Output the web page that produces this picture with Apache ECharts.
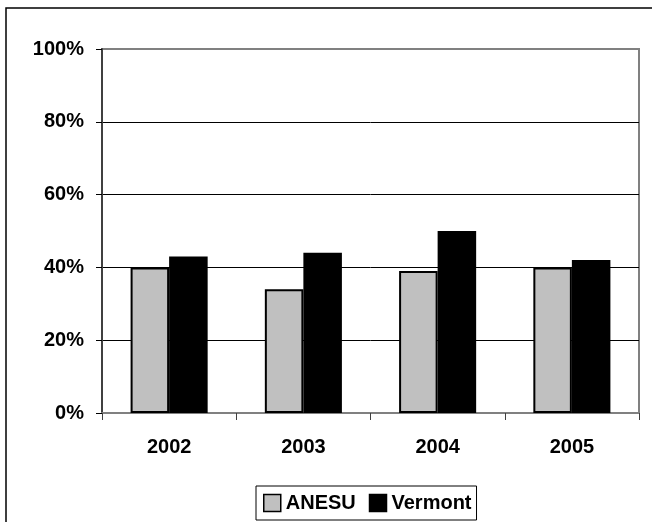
<!DOCTYPE html>
<html><head><meta charset="utf-8">
<script src="https://cdn.jsdelivr.net/npm/echarts@6/dist/echarts.min.js"></script>
<style>html,body{margin:0;padding:0;background:#fff}#c{width:652px;height:522px}</style>
</head><body><div id="c"></div>
<script>
const categories = ['2002', '2003', '2004', '2005'];
const anesu = [40, 34, 39, 40];
const vermont = [43, 44, 50, 42];
const yTicks = [0, 20, 40, 60, 80, 100];

const chart = echarts.init(document.getElementById('c'), null, {renderer: 'canvas'});
const font = 'Liberation Sans, Arial, sans-serif';
chart.setOption({
  animation: false,
  backgroundColor: '#fff',
  graphic: [{
    type: 'rect', shape: {x: 6, y: 8, width: 652, height: 520},
    style: {fill: 'none', stroke: '#000', lineWidth: 1.5}, z: -1
  }],
  grid: {left: 102, right: 13, top: 49, bottom: 109, show: true,
    borderColor: '#808080', borderWidth: 2, backgroundColor: '#fff'},
  legend: {
    left: 256, top: 486, itemWidth: 17, itemHeight: 17, itemGap: 13,
    padding: [7, 5, 7, 7], borderColor: '#000', borderWidth: 1,
    textStyle: {fontFamily: font, fontWeight: 'bold', fontSize: 20, color: '#000'},
    data: [
      {name: 'ANESU', icon: 'rect', itemStyle: {color: '#c0c0c0', borderColor: '#000', borderWidth: 1.5}},
      {name: 'Vermont', icon: 'rect', itemStyle: {color: '#000', borderColor: '#000', borderWidth: 1.5}}
    ]
  },
  xAxis: {
    type: 'category', data: categories,
    axisLine: {lineStyle: {color: '#808080', width: 2}},
    axisTick: {show: true, alignWithLabel: false, length: 7, lineStyle: {color: '#404040'}},
    axisLabel: {fontFamily: font, fontWeight: 'bold', fontSize: 20, color: '#000', margin: 24}
  },
  yAxis: {
    type: 'value', min: 0, max: 100, interval: 20,
    axisLine: {show: true, lineStyle: {color: '#404040', width: 2}},
    axisTick: {show: true, length: 6, lineStyle: {color: '#000'}},
    axisLabel: {fontFamily: font, fontWeight: 'bold', fontSize: 20, color: '#000', margin: 18,
      formatter: v => yTicks.includes(v) ? v + '%' : ''},
    splitLine: {lineStyle: {color: ['#000', '#000', '#000', '#000', '#000', '#808080'], width: 1}}
  },
  series: [
    {name: 'ANESU', type: 'bar', data: anesu, barGap: '0%', barCategoryGap: '42.6%',
      itemStyle: {color: '#c0c0c0', borderColor: '#000', borderWidth: 2}},
    {name: 'Vermont', type: 'bar', data: vermont,
      itemStyle: {color: '#000', borderColor: '#000', borderWidth: 2}}
  ]
});
</script></body></html>
